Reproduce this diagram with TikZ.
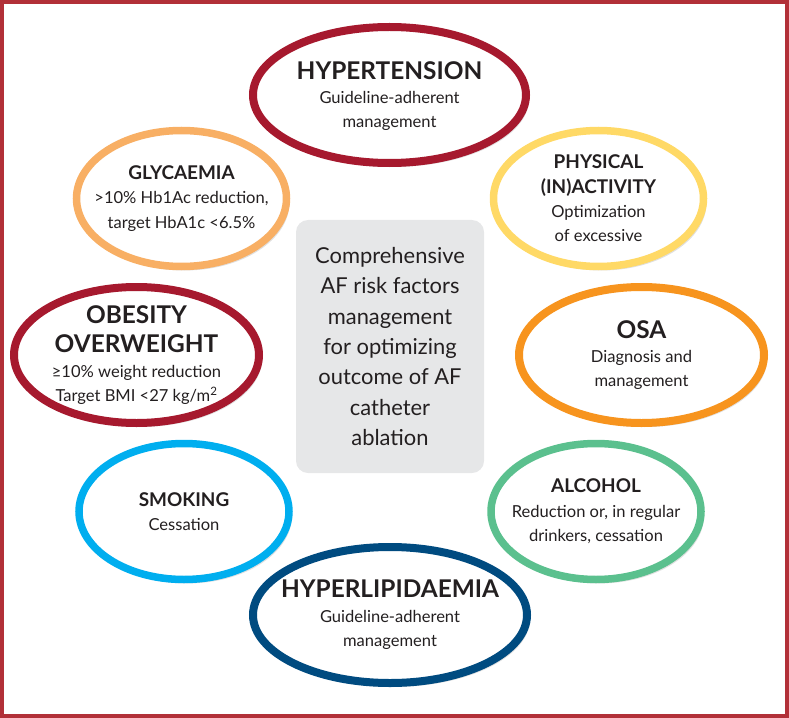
\documentclass[tikz,border=0pt]{standalone}
\usepackage{fontspec}
\setmainfont{Lato}
\usepackage{tikz}
\usetikzlibrary{shapes.geometric,shadows}
\usepackage{xcolor}
\definecolor{framered}{RGB}{178,48,56}
\definecolor{deepred}{RGB}{166,25,46}
\definecolor{paleorange}{RGB}{248,175,100}
\definecolor{sunyellow}{RGB}{255,217,102}
\definecolor{osaorange}{RGB}{247,148,30}
\definecolor{skyblue}{RGB}{0,174,239}
\definecolor{mintgreen}{RGB}{91,192,142}
\definecolor{navyblue}{RGB}{0,75,128}
\definecolor{coregray}{RGB}{230,231,232}
\definecolor{inkgray}{RGB}{35,31,32}
\newcommand{\bighead}[1]{{\fontsize{24.5}{24.5}\selectfont\bfseries #1}}
\newcommand{\smallhead}[1]{{\fontsize{19}{24.5}\selectfont\bfseries #1}}

\begin{document}
\begin{tikzpicture}[x=1bp,y=-1bp,
  every node/.style={text=inkgray},
  risk/.style={ellipse,draw,fill=white,line width=7.5bp,inner sep=0pt,
    minimum width=210bp,minimum height=136bp,
    drop shadow={shadow xshift=3bp,shadow yshift=-4bp,opacity=.12,fill=black}},
  bigrisk/.style={risk,line width=8bp},
  risktext/.style={align=center,inner sep=0pt,font=\fontsize{16.6}{24.5}\selectfont}]
\useasboundingbox (0,0) rectangle (789,718);
\draw[framered,line width=4bp] (2,2) rectangle (787,716);

% centre box
\node[fill=coregray,rounded corners=12bp,minimum width=188bp,minimum height=253bp,
  align=center,font=\fontsize{22}{30.5}\selectfont] (core) at (390,346.5)
  {Comprehensive\\AF risk factors\\management\\for optimizing\\outcome of AF\\catheter\\ablation};

% risk factor rings
\node[bigrisk,draw=deepred,minimum width=273bp] (hyp) at (389.5,95) {};
\node[risk,draw=paleorange] (gly) at (181.5,198.5) {};
\node[risk,draw=sunyellow] (phys) at (598.5,198.5) {};
\node[bigrisk,draw=deepred,minimum width=245bp] (obes) at (136.5,355) {};
\node[bigrisk,draw=osaorange,minimum width=245bp] (osa) at (641.5,355) {};
\node[risk,draw=skyblue] (smok) at (184,511.5) {};
\node[risk,draw=mintgreen] (alc) at (596,511.5) {};
\node[bigrisk,draw=navyblue,minimum width=274bp] (lip) at (390,615) {};

% texts inside the rings
\node[risktext] (hyp-t) at ([yshift=-1bp]hyp) {\bighead{HYPERTENSION}\\Guideline-adherent\\management};
\node[risktext] (gly-t) at (gly) {\smallhead{GLYCAEMIA}\\>10\% Hb1Ac reduction,\\target HbA1c <6.5\%};
\node[risktext] (phys-t) at (phys) {\smallhead{PHYSICAL}\\\smallhead{(IN)ACTIVITY}\\Optimization\\of excessive};
\node[risktext] (obes-t) at (obes) {\bighead{OBESITY}\\[5bp]\bighead{OVERWEIGHT}\\≥10\% weight reduction\\Target BMI <27 kg/m\textsuperscript{2}};
\node[risktext] (osa-t) at (osa) {\bighead{OSA}\\Diagnosis and\\management};
\node[risktext] (smok-t) at (smok) {\smallhead{SMOKING}\\Cessation};
\node[risktext] (alc-t) at (alc) {\smallhead{ALCOHOL}\\Reduction or, in regular\\drinkers, cessation};
\node[risktext] (lip-t) at (lip) {\bighead{HYPERLIPIDAEMIA}\\Guideline-adherent\\management};
\end{tikzpicture}
\end{document}
